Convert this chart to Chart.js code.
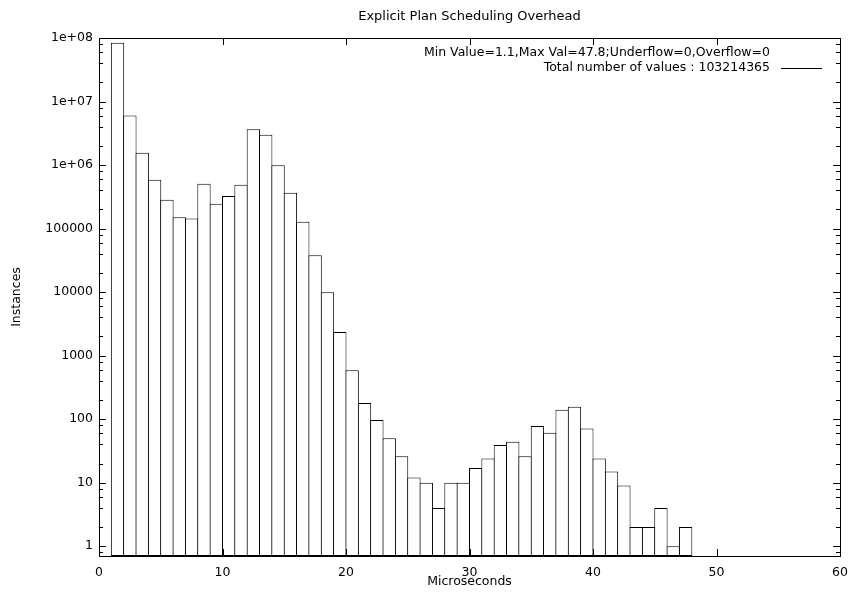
<!DOCTYPE html>
<html>
<head>
<meta charset="utf-8">
<script src="https://cdn.jsdelivr.net/npm/chart.js@4/dist/chart.umd.min.js"></script>
<style>
  html, body { margin: 0; padding: 0; background: #ffffff; }
  #wrap { width: 849px; height: 600px; }
</style>
</head>
<body>
<div id="wrap"><canvas id="c" width="849" height="600"></canvas></div>
<script>
// ---- data ----
const titleText = 'Explicit Plan Scheduling Overhead';
const xAxisTitle = 'Microseconds';
const yAxisTitle = 'Instances';
const statsLine = 'Min Value=1.1,Max Val=47.8;Underflow=0,Overflow=0';
const seriesLabel = 'Total number of values : 103214365';

// bin centres (1 microsecond wide bins starting at 1, 2, ... 47)
const binCenters = [1.5, 2.5, 3.5, 4.5, 5.5, 6.5, 7.5, 8.5, 9.5, 10.5,
  11.5, 12.5, 13.5, 14.5, 15.5, 16.5, 17.5, 18.5, 19.5, 20.5,
  21.5, 22.5, 23.5, 24.5, 25.5, 26.5, 27.5, 28.5, 29.5, 30.5,
  31.5, 32.5, 33.5, 34.5, 35.5, 36.5, 37.5, 38.5, 39.5, 40.5,
  41.5, 42.5, 43.5, 44.5, 45.5, 46.5, 47.5];
const counts = [84000000, 6000000, 1560000, 585000, 283000, 151000, 144000, 506000, 245000, 327000,
  488000, 3660000, 2990000, 993000, 365000, 128000, 38000, 9930, 2360, 587,
  180, 97, 50, 26, 12, 10, 4, 10, 10, 17,
  24, 39, 44, 26, 78, 61, 140, 156, 71, 24,
  15, 9, 2, 2, 4, 1, 2];

const xTickValues = [0, 10, 20, 30, 40, 50, 60];
const yTickValues = [1, 10, 100, 1000, 10000, 100000, 1000000, 10000000, 100000000];
const yTickLabels = ['1', '10', '100', '1000', '10000', '100000', '1e+06', '1e+07', '1e+08'];
const yMinorMultipliers = [2, 4, 6, 8];

const FONT = 'DejaVu Sans';

const frameAndTicks = {
  id: 'frameAndTicks',
  afterLayout(chart) {
    // centre the title over the plot area, like gnuplot
    if (chart.titleBlock) {
      chart.titleBlock.left = chart.chartArea.left;
      chart.titleBlock.right = chart.chartArea.right;
    }
  },
  afterDatasetsDraw(chart) {
    const { ctx, chartArea: a, scales: { x, y } } = chart;
    ctx.save();
    ctx.strokeStyle = '#000000';
    ctx.lineWidth = 1;
    ctx.beginPath();
    xTickValues.forEach(v => {
      const px = Math.round(x.getPixelForValue(v)) + 0.5;
      ctx.moveTo(px, a.bottom); ctx.lineTo(px, a.bottom - 7);
      ctx.moveTo(px, a.top); ctx.lineTo(px, a.top + 7);
    });
    y.ticks.forEach(t => {
      const py = Math.round(y.getPixelForValue(t.value)) + 0.5;
      const len = yTickValues.includes(t.value) ? 7 : 4;
      ctx.moveTo(a.left, py); ctx.lineTo(a.left + len, py);
      ctx.moveTo(a.right, py); ctx.lineTo(a.right - len, py);
    });
    ctx.stroke();
    ctx.strokeRect(Math.round(a.left) + 0.5, Math.round(a.top) + 0.5,
      Math.round(a.right - a.left), Math.round(a.bottom - a.top));

    // key (gnuplot style: right-justified text, sample line on the right)
    ctx.fillStyle = '#000000';
    ctx.font = '12.5px "' + FONT + '"';
    ctx.textAlign = 'right';
    ctx.textBaseline = 'middle';
    const textRight = a.right - 70;
    const y1 = a.top + 15, y2 = a.top + 30;
    ctx.fillText(statsLine, textRight, y1);
    ctx.fillText(chart.data.datasets[0].label, textRight, y2);
    ctx.beginPath();
    ctx.moveTo(a.right - 59, Math.round(y2) + 0.5);
    ctx.lineTo(a.right - 18, Math.round(y2) + 0.5);
    ctx.stroke();
    ctx.restore();
  }
};

new Chart(document.getElementById('c'), {
  type: 'bar',
  data: {
    datasets: [{
      label: seriesLabel,
      data: binCenters.map((c, i) => ({ x: c, y: counts[i] })),
      backgroundColor: '#ffffff',
      borderColor: '#000000',
      borderWidth: 1,
      borderSkipped: false,
      barPercentage: 1.08,
      categoryPercentage: 1
    }]
  },
  options: {
    responsive: false,
    animation: false,
    devicePixelRatio: 1,
    layout: { padding: { left: 0, right: 9, top: 0, bottom: 0 } },
    plugins: {
      legend: { display: false },
      tooltip: { enabled: false },
      title: {
        display: true,
        text: titleText,
        color: '#000000',
        font: { family: FONT, size: 13, weight: 'normal', lineHeight: 1.2 },
        padding: { top: 9, bottom: 13.4 }
      }
    },
    scales: {
      x: {
        type: 'linear',
        offset: false,
        min: 0, max: 60,
        grid: { display: false, drawTicks: false, offset: false },
        border: { display: false },
        ticks: {
          stepSize: 10,
          padding: 9,
          color: '#000000',
          font: { family: FONT, size: 12.5 },
          maxRotation: 0,
          autoSkip: false
        },
        title: {
          display: true,
          text: xAxisTitle,
          color: '#000000',
          font: { family: FONT, size: 12.5, lineHeight: 1.2 },
          padding: { top: 0, bottom: 10.5 }
        },
        afterFit(scale) {
          scale.height = 44;
          scale.paddingLeft = 0;
          scale.paddingRight = 0;
        }
      },
      y: {
        type: 'logarithmic',
        min: 0.7, max: 100000000,
        grid: { display: false, drawTicks: false },
        border: { display: false },
        afterBuildTicks(scale) {
          const t = [];
          for (let k = -1; k <= 8; k++) {
            const base = Math.pow(10, k);
            const major = yTickValues.find(v => Math.abs(v - base) < base * 1e-9);
            if (base >= scale.min && base <= scale.max) t.push({ value: major !== undefined ? major : base });
            yMinorMultipliers.forEach(m => {
              const v = m * base;
              if (v >= scale.min && v <= scale.max) t.push({ value: v });
            });
          }
          scale.ticks = t;
        },
        ticks: {
          padding: 6,
          autoSkip: false,
          color: '#000000',
          font: { family: FONT, size: 12.5 },
          callback(v) {
            const i = yTickValues.indexOf(v);
            return i >= 0 ? yTickLabels[i] : '';
          }
        },
        title: {
          display: true,
          text: yAxisTitle,
          color: '#000000',
          font: { family: FONT, size: 12.5, lineHeight: 1.2 },
          padding: { top: 9.5, bottom: 0 }
        },
        afterFit(scale) {
          scale.width = 99;
          scale.paddingTop = 0;
          scale.paddingBottom = 0;
        }
      }
    }
  },
  plugins: [frameAndTicks]
});
</script>
</body>
</html>
